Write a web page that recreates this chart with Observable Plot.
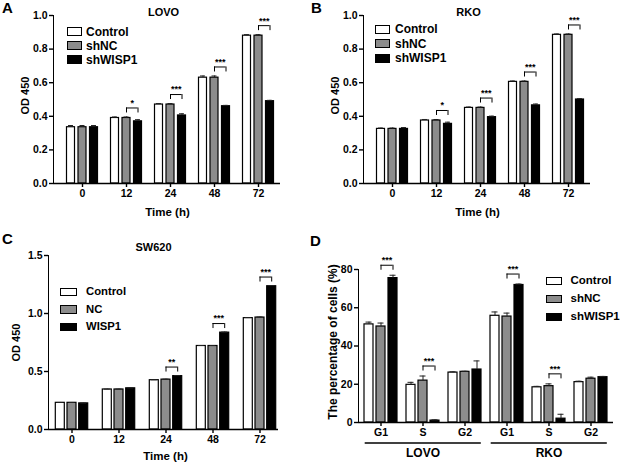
<!DOCTYPE html>
<html><head><meta charset="utf-8">
<script src="https://cdn.jsdelivr.net/npm/d3@7"></script>
<script src="https://cdn.jsdelivr.net/npm/@observablehq/plot@0.6"></script>
<style>
body{margin:0;background:#fff;}
#root{position:relative;width:620px;height:463px;overflow:hidden;font-family:"Liberation Sans",Arial,sans-serif;font-weight:bold;color:#000;background:#fff;}
.panel{position:absolute;}
.panel svg{position:absolute;left:0;top:0;}
.panel svg g[aria-label*="axis"] line,.panel svg g[aria-label*="axis"] path{stroke-width:1.4px;}
.letter{position:absolute;font-size:15px;line-height:15px;font-weight:bold;}
.leg{position:absolute;white-space:nowrap;font-weight:bold;}
.sw{position:absolute;box-sizing:border-box;border:1.3px solid #000;}
</style></head>
<body><div id="root"></div>
<script>
// ---------- data ----------
const times = ["0", "12", "24", "48", "72"];
const seriesAB = ["Control", "shNC", "shWISP1"];
const seriesC = ["Control", "NC", "WISP1"];

const lovoControl = [0.335, 0.39, 0.47, 0.63, 0.88];
const lovoShNC    = [0.335, 0.39, 0.47, 0.63, 0.88];
const lovoShWISP1 = [0.335, 0.37, 0.405, 0.46, 0.49];
const lovoErrControl = [0.01, 0.006, 0.006, 0.01, 0.006];
const lovoErrShNC    = [0.01, 0.006, 0.006, 0.01, 0.006];
const lovoErrShWISP1 = [0.01, 0.01, 0.01, 0.005, 0.005];
const lovoSigTimes = ["12", "24", "48", "72"];
const lovoSigLabels = ["*", "***", "***", "***"];

const rkoControl = [0.325, 0.375, 0.45, 0.605, 0.885];
const rkoShNC    = [0.325, 0.375, 0.45, 0.605, 0.885];
const rkoShWISP1 = [0.325, 0.355, 0.395, 0.465, 0.50];
const rkoErrControl = [0.005, 0.006, 0.005, 0.005, 0.005];
const rkoErrShNC    = [0.005, 0.006, 0.005, 0.005, 0.005];
const rkoErrShWISP1 = [0.008, 0.01, 0.006, 0.008, 0.005];
const rkoSigTimes = ["12", "24", "48", "72"];
const rkoSigLabels = ["*", "***", "***", "***"];

const swControl = [0.23, 0.345, 0.425, 0.72, 0.96];
const swNC      = [0.23, 0.345, 0.43, 0.72, 0.965];
const swWISP1   = [0.225, 0.355, 0.46, 0.835, 1.235];
const swErrControl = [0.003, 0.003, 0.004, 0.004, 0.005];
const swErrNC      = [0.003, 0.003, 0.004, 0.004, 0.005];
const swErrWISP1   = [0.003, 0.004, 0.005, 0.005, 0.006];
const swSigTimes = ["24", "48", "72"];
const swSigLabels = ["**", "***", "***"];

const cellLines = ["LOVO", "RKO"];
const phases = ["G1", "S", "G2"];
const cycleControl = [51.3, 19.7, 26.1, 55.8, 18.4, 21.1];
const cycleShNC    = [50.2, 21.9, 26.5, 55.4, 19.0, 22.9];
const cycleShWISP1 = [75.5, 1.0, 27.7, 71.9, 2.0, 23.7];
const cycleErrControl = [1.2, 1.3, 0.4, 2.0, 0.5, 0.5];
const cycleErrShNC    = [1.8, 2.4, 0.3, 1.8, 1.2, 0.8];
const cycleErrShWISP1 = [1.5, 0.4, 4.5, 0.5, 2.3, 0.4];
const cycleSigCats = ["LOVO G1", "LOVO S", "RKO G1", "RKO S"];
const cycleSigLabels = ["***", "***", "***", "***"];

// ---------- drawing ----------
const fills = ["#ffffff", "#8c8c8c", "#000000"];
const root = document.getElementById("root");

function panel(o) {
  const rows = [];
  o.values.forEach((vals, j) => o.cats.forEach((c, i) => rows.push({cat: c, j, v: vals[i], e: o.errors[j][i]})));
  const plotH = o.height - o.mt - o.mb;
  const u = (o.yDomain[1] - o.yDomain[0]) / plotH;
  const br = o.sigCats.map((c, k) => {
    const i = o.cats.indexOf(c);
    const top = Math.max(o.values[1][i] + o.errors[1][i], o.values[2][i] + o.errors[2][i]) + o.gap * u;
    return {cat: c, label: o.sigLabels[k], y: top, y0: top - 5 * u};
  });
  const marks = [];
  o.values.forEach((vals, j) => {
    const d = rows.filter(r => r.j === j);
    const dx = (j - 1) * o.step;
    marks.push(Plot.barY(d, {x: "cat", y: "v", fill: fills[j], stroke: "#000", strokeWidth: 1.2, dx}));
    marks.push(Plot.ruleX(d, {x: "cat", y1: "v", y2: r => r.v + r.e, dx, stroke: "#222", strokeWidth: 1}));
    marks.push(Plot.tickY(d, {x: "cat", y: r => r.v + r.e, dx, insetLeft: 1.5, insetRight: 1.5, stroke: "#222", strokeWidth: 1}));
  });
  marks.push(Plot.ruleY([0], {stroke: "#000", strokeWidth: 1.4}));
  // significance brackets
  const half = o.step / 2, ext = -(o.step - o.bw) / 2;
  marks.push(Plot.tickY(br, {x: "cat", y: "y", dx: half, insetLeft: ext, insetRight: ext, stroke: "#000", strokeWidth: 1}));
  marks.push(Plot.ruleX(br, {x: "cat", y1: "y0", y2: "y", dx: 0, stroke: "#000", strokeWidth: 1}));
  marks.push(Plot.ruleX(br, {x: "cat", y1: "y0", y2: "y", dx: o.step, stroke: "#000", strokeWidth: 1}));
  marks.push(Plot.text(br, {x: "cat", y: "y", text: "label", dx: half, dy: -5, fontSize: 9, fontWeight: "bold", fill: "#000"}));
  // labels
  marks.push(Plot.text([o.yLabel], {frameAnchor: "left", textAnchor: "middle", lineAnchor: "middle", rotate: -90, dx: o.yLabelDx, dy: o.yLabelDy, fontSize: o.yLabelSize, fontWeight: "bold", fill: "#000"}));
  if (o.title) marks.push(Plot.text([o.title], {frameAnchor: "top", textAnchor: "middle", lineAnchor: "middle", dx: o.titleDx, dy: o.titleDy, fontSize: 11, fontWeight: "bold", fill: "#000"}));
  if (o.xLabel) marks.push(Plot.text([o.xLabel], {frameAnchor: "bottom", textAnchor: "middle", lineAnchor: "middle", dx: o.xLabelDx, dy: o.xLabelDy, fontSize: 11.5, fontWeight: "bold", fill: "#000"}));
  if (o.extra) marks.push(...o.extra);

  const svg = Plot.plot({
    width: o.width, height: o.height,
    marginLeft: o.ml, marginRight: o.mr, marginTop: o.mt, marginBottom: o.mb,
    style: {fontFamily: "Liberation Sans, Arial, sans-serif", fontSize: "10.5px", fontWeight: "bold", color: "#000", background: "transparent", overflow: "visible"},
    x: {type: "band", domain: o.cats, range: o.xRange, paddingInner: 1 - o.bw / o.groupStep, paddingOuter: 0, align: 0,
        tickSize: 4, tickPadding: 2, label: null, tickFormat: o.xFormat || (d => d)},
    y: {domain: o.yDomain, ticks: o.yTicks, tickFormat: o.yFormat, tickSize: 4, tickPadding: 2, label: null, line: true},
    marks
  });
  const div = document.createElement("div");
  div.className = "panel";
  div.style.left = o.left + "px"; div.style.top = o.top + "px";
  div.style.width = o.width + "px"; div.style.height = o.height + "px";
  div.appendChild(svg);
  root.appendChild(div);
}

function letter(t, x, y) {
  const d = document.createElement("div");
  d.className = "letter"; d.textContent = t;
  d.style.left = x + "px"; d.style.top = y + "px";
  root.appendChild(d);
}

function legend(names, o) {
  names.forEach((n, j) => {
    const cy = o.y + j * o.dy;
    const s = document.createElement("div");
    s.className = "sw";
    s.style.left = o.x + "px"; s.style.top = (cy - o.sh / 2) + "px";
    s.style.width = o.sw + "px"; s.style.height = o.sh + "px";
    s.style.background = fills[j];
    root.appendChild(s);
    const t = document.createElement("div");
    t.className = "leg"; t.textContent = n;
    t.style.fontSize = o.fs + "px"; t.style.lineHeight = o.fs + "px";
    t.style.left = o.tx + "px"; t.style.top = (cy - o.fs * 0.5) + "px";
    root.appendChild(t);
  });
}

const f1 = d3.format(".1f");

// A
panel({left: 0, top: 0, width: 310, height: 230, ml: 53, mr: 30, mt: 15, mb: 47,
  cats: times, values: [lovoControl, lovoShNC, lovoShWISP1], errors: [lovoErrControl, lovoErrShNC, lovoErrShWISP1],
  sigCats: lovoSigTimes, sigLabels: lovoSigLabels, gap: 9,
  xRange: [78, 265], bw: 8, groupStep: 44.75, step: 11.5,
  yDomain: [0, 1], yTicks: [0, 0.2, 0.4, 0.6, 0.8, 1.0], yFormat: f1,
  yLabel: "OD 450", yLabelDx: -28, yLabelDy: -4, yLabelSize: 11,
  title: "LOVO", titleDx: -3.5, titleDy: -3.3, xLabel: "Time (h)", xLabelDx: 0.5, xLabelDy: 28.7});
// B
panel({left: 310, top: 0, width: 310, height: 230, ml: 53, mr: 30, mt: 15, mb: 47,
  cats: times, values: [rkoControl, rkoShNC, rkoShWISP1], errors: [rkoErrControl, rkoErrShNC, rkoErrShWISP1],
  sigCats: rkoSigTimes, sigLabels: rkoSigLabels, gap: 9,
  xRange: [78, 265], bw: 8, groupStep: 44.75, step: 11.5,
  yDomain: [0, 1], yTicks: [0, 0.2, 0.4, 0.6, 0.8, 1.0], yFormat: f1,
  yLabel: "OD 450", yLabelDx: -28, yLabelDy: -4, yLabelSize: 11,
  title: "RKO", titleDx: -8.5, titleDy: -3.3, xLabel: "Time (h)", xLabelDx: 0.5, xLabelDy: 28.7});
// C
panel({left: 0, top: 230, width: 310, height: 233, ml: 48, mr: 32, mt: 25, mb: 34,
  cats: times, values: [swControl, swNC, swWISP1], errors: [swErrControl, swErrNC, swErrWISP1],
  sigCats: swSigTimes, sigLabels: swSigLabels, gap: 8.5,
  xRange: [66.7, 264.1], bw: 9, groupStep: 47.1, step: 11.7,
  yDomain: [0, 1.5], yTicks: [0, 0.5, 1.0, 1.5], yFormat: f1,
  yLabel: "OD 450", yLabelDx: -32, yLabelDy: 0, yLabelSize: 11,
  title: "SW620", titleDx: -10, titleDy: -8.3, xLabel: "Time (h)", xLabelDx: 2, xLabelDy: 26.4});
// D
const cycleCats = cellLines.flatMap(c => phases.map(p => c + " " + p));
panel({left: 310, top: 230, width: 310, height: 233, ml: 48, mr: 7, mt: 39, mb: 41,
  cats: cycleCats, values: [cycleControl, cycleShNC, cycleShWISP1], errors: [cycleErrControl, cycleErrShNC, cycleErrShWISP1],
  sigCats: cycleSigCats, sigLabels: cycleSigLabels, gap: 10,
  xRange: [66.3, 289.3], bw: 9, groupStep: 42.8, step: 12, xFormat: d => d.split(" ")[1],
  yDomain: [0, 80], yTicks: [0, 20, 40, 60, 80], yFormat: d3.format("d"),
  yLabel: "The percentage of cells (%)", yLabelDx: -25.5, yLabelDy: -4, yLabelSize: 12,
  extra: [
    Plot.ruleY(cellLines, {x1: c => c + " " + phases[0], x2: c => c + " " + phases[2], y: () => 0, dy: 20.5,
      insetLeft: -11.3, insetRight: -11.8, stroke: "#000", strokeWidth: 1.4}),
    Plot.text(cellLines, {x: c => c + " " + phases[1], y: () => 0, dy: 30.7, text: d => d, fontSize: 12, fontWeight: "bold", fill: "#000"})
  ]});

legend(seriesAB, {x: 66.7, y: 31.7, dy: 14, sw: 15, sh: 9, tx: 86, fs: 12});
legend(seriesAB, {x: 375, y: 29, dy: 14.5, sw: 15, sh: 9, tx: 395, fs: 12});
legend(seriesC, {x: 60, y: 292, dy: 17.5, sw: 17, sh: 8.5, tx: 86, fs: 11.3});
legend(seriesAB, {x: 546, y: 281, dy: 17.8, sw: 16, sh: 8, tx: 570.5, fs: 11.5});

letter("A", 2, 0);
letter("B", 311, 0);
letter("C", 2, 231);
letter("D", 310, 233);
</script></body></html>
